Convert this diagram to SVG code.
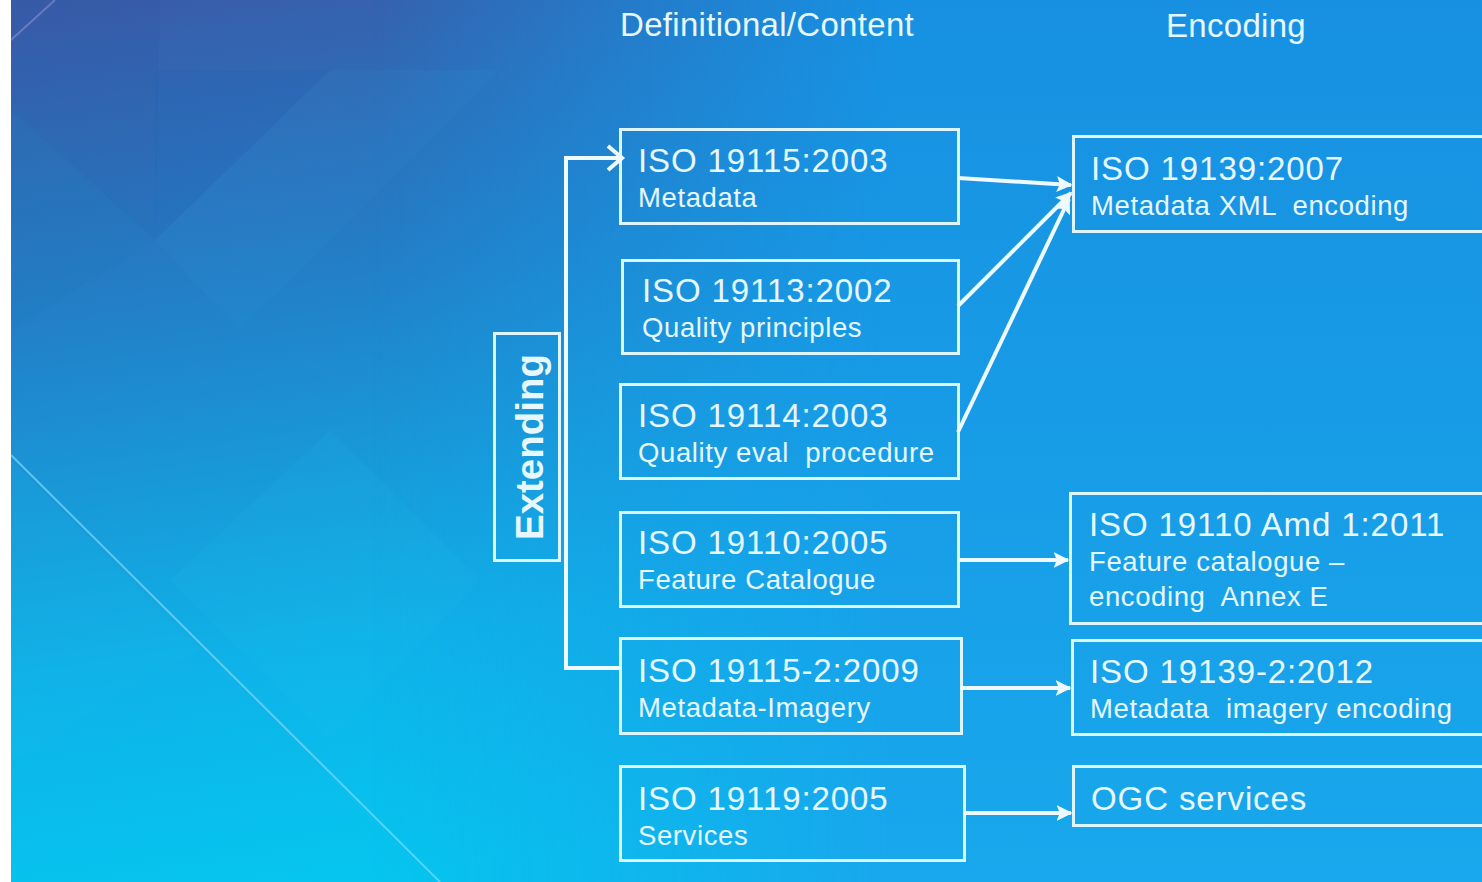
<svg xmlns="http://www.w3.org/2000/svg" width="1482" height="882" viewBox="0 0 1482 882">
<defs>
<linearGradient id="g1" x1="0" y1="0" x2="0.25" y2="1">
<stop offset="0" stop-color="#3a5ba8"/>
<stop offset="0.35" stop-color="#2280c8"/>
<stop offset="0.75" stop-color="#0eb3e9"/>
<stop offset="1" stop-color="#05c6ef"/>
</linearGradient>
<linearGradient id="g2" x1="0" y1="0" x2="0" y2="1">
<stop offset="0" stop-color="#1790e1"/>
<stop offset="1" stop-color="#18a8ec"/>
</linearGradient>
<linearGradient id="gm" x1="0" y1="0" x2="1" y2="0">
<stop offset="0.25" stop-color="#fff" stop-opacity="0"/>
<stop offset="0.6" stop-color="#fff" stop-opacity="1"/>
</linearGradient>
<mask id="m1"><rect width="1482" height="882" fill="url(#gm)"/></mask>
<marker id="ah" viewBox="0 0 10 10" refX="9" refY="5" markerWidth="4" markerHeight="4" orient="auto" markerUnits="strokeWidth">
<path d="M0,0 L10,5 L0,10 L2,5 Z" fill="#eefaff"/>
</marker>
<style>
.box{fill:none;stroke:#dff5fc;stroke-width:3}
.t1{font-family:"Liberation Sans",Arial,sans-serif;font-size:33px;letter-spacing:0.9px;fill:#e6f8fe}
.t2{font-family:"Liberation Sans",Arial,sans-serif;font-size:27.5px;letter-spacing:0.6px;fill:#e6f8fe}
.hd{font-family:"Liberation Sans",Arial,sans-serif;font-size:33px;letter-spacing:0.3px;fill:#e6f8fe}
.ln{fill:none;stroke:#eefaff;stroke-width:4}
</style>
</defs>
<g id="background">
<rect width="1482" height="882" fill="url(#g1)"/>
<rect width="1482" height="882" fill="url(#g2)" mask="url(#m1)"/>
<polygon points="11,0 160,0 155,240 11,110" fill="#2a4a9a" opacity="0.1"/>
<polygon points="155,70 330,70 155,240" fill="#1e5fb8" opacity="0.15"/>
<polygon points="11,100 155,240 11,330" fill="#1e7ab8" opacity="0.15"/>
<polygon points="330,70 500,70 240,330 155,240" fill="#35a6e0" opacity="0.08"/>
<polygon points="330,430 480,580 330,740 170,580" fill="#25c8f0" opacity="0.1"/>
<polygon points="11,460 200,650 11,760" fill="#20c2ec" opacity="0.1"/>
<line x1="11" y1="455" x2="440" y2="882" stroke="#7fd8f6" stroke-width="2" opacity="0.7"/>
<line x1="11" y1="40" x2="55" y2="0" stroke="#8a8ed0" stroke-width="2" opacity="0.6"/>
<rect x="0" y="0" width="11" height="882" fill="#ffffff"/>
</g>
<g id="headers">
<text class="hd" x="620" y="36">Definitional/Content</text>
<text class="hd" x="1166" y="37">Encoding</text>
</g>
<g id="extending">
<rect class="box" x="494.5" y="333.5" width="65" height="227"/>
<text x="543" y="447" transform="rotate(-90 543 447)" text-anchor="middle" font-family="'Liberation Sans',Arial,sans-serif" font-weight="bold" font-size="38.5" fill="#e6f8fe">Extending</text>
</g>
<g id="n19115">
<rect class="box" x="620.5" y="129.5" width="338" height="94"/>
<text class="t1" x="638" y="172">ISO 19115:2003</text>
<text class="t2" x="638" y="207">Metadata</text>
</g>
<g id="n19113">
<rect class="box" x="622.5" y="260.5" width="336" height="93"/>
<text class="t1" x="642" y="302">ISO 19113:2002</text>
<text class="t2" x="642" y="337">Quality principles</text>
</g>
<g id="n19114">
<rect class="box" x="620.5" y="384.5" width="338" height="94"/>
<text class="t1" x="638" y="427">ISO 19114:2003</text>
<text class="t2" x="638" y="462" xml:space="preserve">Quality eval  procedure</text>
</g>
<g id="n19110">
<rect class="box" x="620.5" y="512.5" width="338" height="94"/>
<text class="t1" x="638" y="554">ISO 19110:2005</text>
<text class="t2" x="638" y="589">Feature Catalogue</text>
</g>
<g id="n19115-2">
<rect class="box" x="620.5" y="638.5" width="341" height="95"/>
<text class="t1" x="638" y="682">ISO 19115-2:2009</text>
<text class="t2" x="638" y="717">Metadata-Imagery</text>
</g>
<g id="n19119">
<rect class="box" x="620.5" y="766.5" width="344" height="94"/>
<text class="t1" x="638" y="810">ISO 19119:2005</text>
<text class="t2" x="638" y="845">Services</text>
</g>
<g id="n19139">
<rect class="box" x="1073.5" y="136.5" width="420" height="95"/>
<text class="t1" x="1091" y="180">ISO 19139:2007</text>
<text class="t2" x="1091" y="215" xml:space="preserve">Metadata XML  encoding</text>
</g>
<g id="n19110amd">
<rect class="box" x="1070.5" y="493.5" width="420" height="130"/>
<text class="t1" x="1089" y="536">ISO 19110 Amd 1:2011</text>
<text class="t2" x="1089" y="571">Feature catalogue –</text>
<text class="t2" x="1089" y="606" xml:space="preserve">encoding  Annex E</text>
</g>
<g id="n19139-2">
<rect class="box" x="1072.5" y="640.5" width="420" height="94"/>
<text class="t1" x="1090" y="683">ISO 19139-2:2012</text>
<text class="t2" x="1090" y="718" xml:space="preserve">Metadata  imagery encoding</text>
</g>
<g id="nogc">
<rect class="box" x="1073.5" y="766.5" width="420" height="59"/>
<text class="t1" x="1091" y="810">OGC services</text>
</g>
<g id="connectors">
<polyline class="ln" points="620,668 566,668 566,158 622,158"/>
<polyline points="608,146 622,158 608,170" fill="none" stroke="#eefaff" stroke-width="4"/>
<line class="ln" x1="958" y1="178" x2="1071" y2="185" marker-end="url(#ah)"/>
<line class="ln" x1="958" y1="306" x2="1071" y2="193" marker-end="url(#ah)"/>
<line class="ln" x1="958" y1="432" x2="1069" y2="199" marker-end="url(#ah)"/>
<line class="ln" x1="958" y1="560" x2="1068" y2="560" marker-end="url(#ah)"/>
<line class="ln" x1="961" y1="688" x2="1070" y2="688" marker-end="url(#ah)"/>
<line class="ln" x1="964" y1="813" x2="1071" y2="813" marker-end="url(#ah)"/>
</g>
</svg>
